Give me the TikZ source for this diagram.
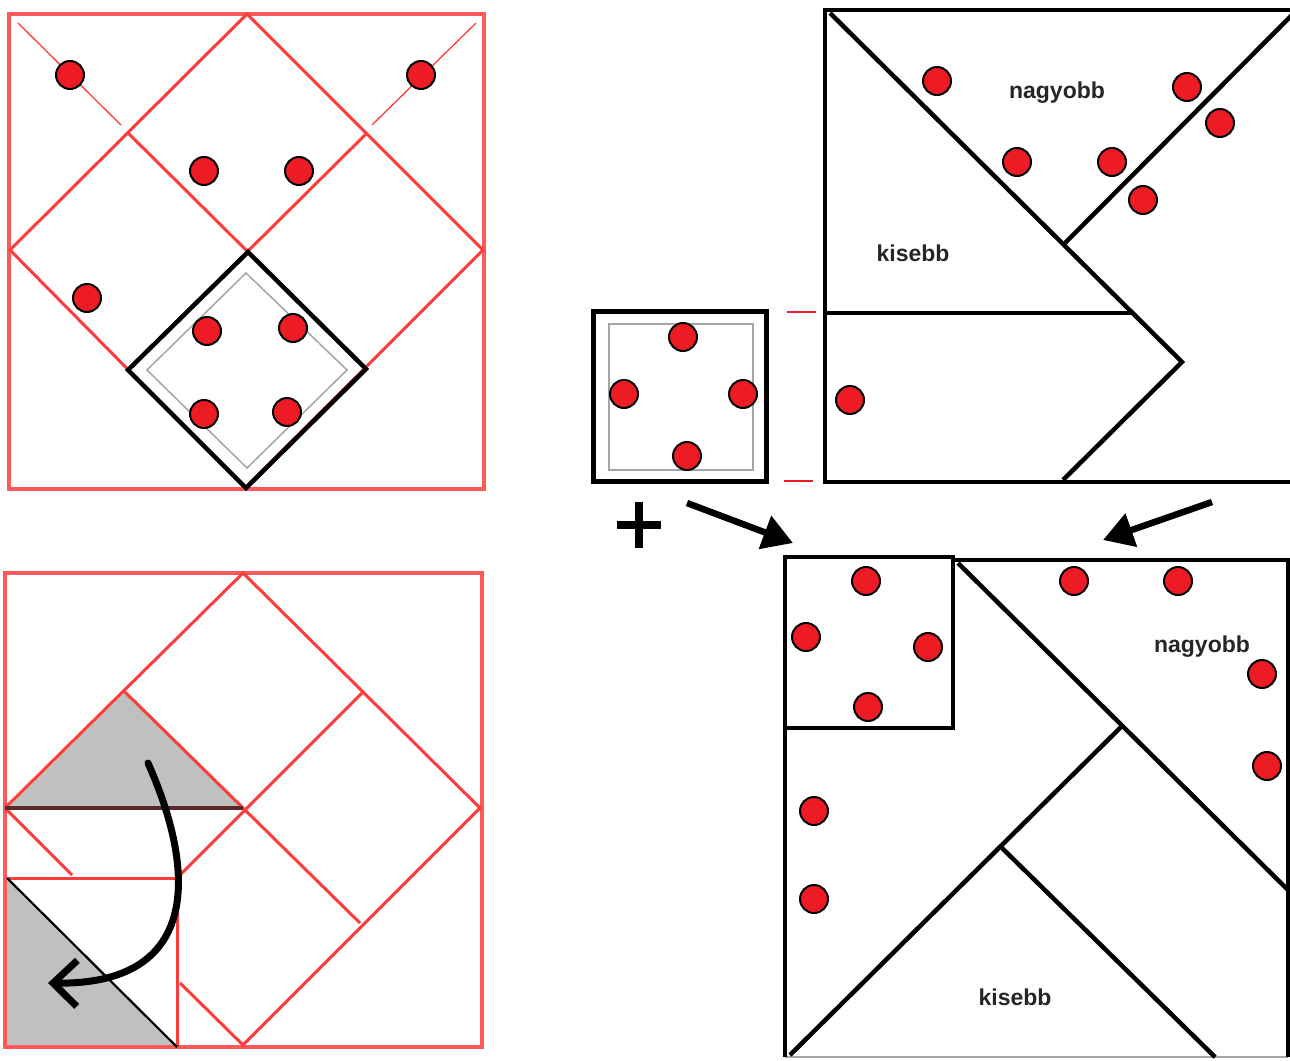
\documentclass[tikz,border=0pt]{standalone}
\usepackage{fontspec}
\setmainfont{Liberation Sans}
\usetikzlibrary{arrows.meta}
\definecolor{lred}{RGB}{255,60,60}
\definecolor{dotred}{RGB}{237,28,36}
\definecolor{shadegray}{RGB}{192,192,192}
\definecolor{darkbase}{RGB}{90,40,40}
\definecolor{ltgray}{RGB}{165,165,165}
\begin{document}
\begin{tikzpicture}[x=1pt,y=-1pt,
 redline/.style={draw=lred,line width=3pt},
 redframe/.style={draw=lred!85!white,line width=3.5pt},
 thinred/.style={draw=lred,line width=1.3pt},
 blk/.style={draw=black,line width=4.5pt},
 dot/.style={circle,fill=dotred,draw=black,line width=2pt,minimum size=28pt,inner sep=0pt},
 lbl/.style={font=\bfseries\fontsize{23}{25}\selectfont,text=black!85,inner sep=0pt},
 bigarrow/.style={line width=6.5pt,-{Triangle[length=30pt,width=34pt]}},
]
\useasboundingbox (0,0) rectangle (1290,1060);
\fill[white] (0,0) rectangle (1290,1060);

% ---------------- top-left panel ----------------
\draw[redframe] (9,14) rectangle (484,489);
\draw[redline] (247,14) -- (483,250) -- (245,488) -- (10,250) -- cycle;
\draw[redline] (128,133) -- (365,368);
\draw[redline] (367,133) -- (128,370);
\draw[thinred] (18,23) -- (121,125);
\draw[thinred] (476,23) -- (372,125);
\draw[blk] (248,252) -- (366,369) -- (246,488) -- (128,370) -- cycle;
\draw[ltgray,line width=1.5pt] (246,273) -- (347,370) -- (247,468) -- (147,370) -- cycle;
\node[dot] (a1) at (70,75) {};
\node[dot] (a2) at (421,75) {};
\node[dot] (a3) at (204,171) {};
\node[dot] (a4) at (299,171) {};
\node[dot] (a5) at (87,298) {};
\node[dot] (a6) at (207,331) {};
\node[dot] (a7) at (293,328) {};
\node[dot] (a8) at (204,414) {};
\node[dot] (a9) at (287,412) {};

% ---------------- bottom-left panel ----------------
\fill[shadegray] (7,808) -- (125,692) -- (243,808) -- cycle;
\fill[shadegray] (7,878) -- (7,1047) -- (177,1047) -- cycle;
\draw[redframe] (5,573) rectangle (482,1047);
\draw[redline] (5,808) -- (243,573) -- (480,808) -- (243,1045) -- (180,983);
\draw[redline] (5,808) -- (72,875);
\draw[redline] (125,692) -- (360,923);
\draw[redline] (362,693) -- (177,878);
\draw[redline] (7,878) -- (177,878) -- (177,1047);
\draw[darkbase,line width=4.5pt] (5,808) -- (243,808);
\draw[black,line width=2.2pt] (7,878) -- (177,1047);
\coordinate (cs) at (148,763);
\coordinate (ce) at (48,983);
\draw[line width=7pt,line cap=round,-{Straight Barb[length=24pt,width=46pt]}]
  (cs) .. controls (200,880) and (195,985) .. (ce);

% ---------------- middle small square ----------------
\draw[black,line width=5pt] (593,311) rectangle (766,481);
\draw[ltgray,line width=2.5pt] (609,324) rectangle (753,470);
\node[dot] (m1) at (683,337) {};
\node[dot] (m2) at (624,394) {};
\node[dot] (m3) at (743,394) {};
\node[dot] (m4) at (687,456) {};
\draw[dotred,line width=2.5pt] (787,312) -- (816,312);
\draw[dotred,line width=2.5pt] (784,481) -- (813,481);
\node[inner sep=0pt] (plus) at (639,525) {};
\draw[black,line width=7.5pt] (617,525) -- (661,525);
\draw[black,line width=7.5pt] (639,502) -- (639,548);

% arrows
\coordinate (ar1s) at (687,503);
\coordinate (ar1e) at (793,543);
\coordinate (ar2s) at (1212,502);
\coordinate (ar2e) at (1103,540);
\draw[bigarrow] (ar1s) -- (ar1e);
\draw[bigarrow] (ar2s) -- (ar2e);

% ---------------- top-right panel ----------------
\draw[blk] (1292,10) -- (825,10) -- (825,482) -- (1292,482);
\draw[blk] (830,13) -- (1182,362) -- (1063,480);
\draw[blk] (1065,243) -- (1292,15);
\draw[blk] (825,313) -- (1132,313);
\node[dot] (b1) at (937,81) {};
\node[dot] (b2) at (1187,87) {};
\node[dot] (b3) at (1220,123) {};
\node[dot] (b4) at (1017,162) {};
\node[dot] (b5) at (1112,162) {};
\node[dot] (b6) at (1143,200) {};
\node[dot] (b7) at (850,400) {};
\node[lbl] (t1) at (1057,93) {nagyobb};
\node[lbl] (t2) at (913,253) {kisebb};

% ---------------- bottom-right panel ----------------
\draw[ltgray,line width=1.5pt] (785,1057) -- (1288,1057);
\draw[blk] (953,560) -- (1288,560) -- (1288,1057);
\draw[blk] (785,728) -- (785,1057);
\draw[blk] (785,557) rectangle (953,728);
\draw[blk] (958,563) -- (1288,890);
\draw[blk] (790,1055) -- (1122,726);
\draw[blk] (1002,848) -- (1215,1057);
\node[dot] (c1) at (866,581) {};
\node[dot] (c2) at (806,637) {};
\node[dot] (c3) at (928,647) {};
\node[dot] (c4) at (868,707) {};
\node[dot] (c5) at (1074,581) {};
\node[dot] (c6) at (1178,581) {};
\node[dot] (c7) at (1262,674) {};
\node[dot] (c8) at (1267,766) {};
\node[dot] (c9) at (814,811) {};
\node[dot] (c10) at (814,899) {};
\node[lbl] (t3) at (1202,647) {nagyobb};
\node[lbl] (t4) at (1015,997) {kisebb};
\end{tikzpicture}
\end{document}
